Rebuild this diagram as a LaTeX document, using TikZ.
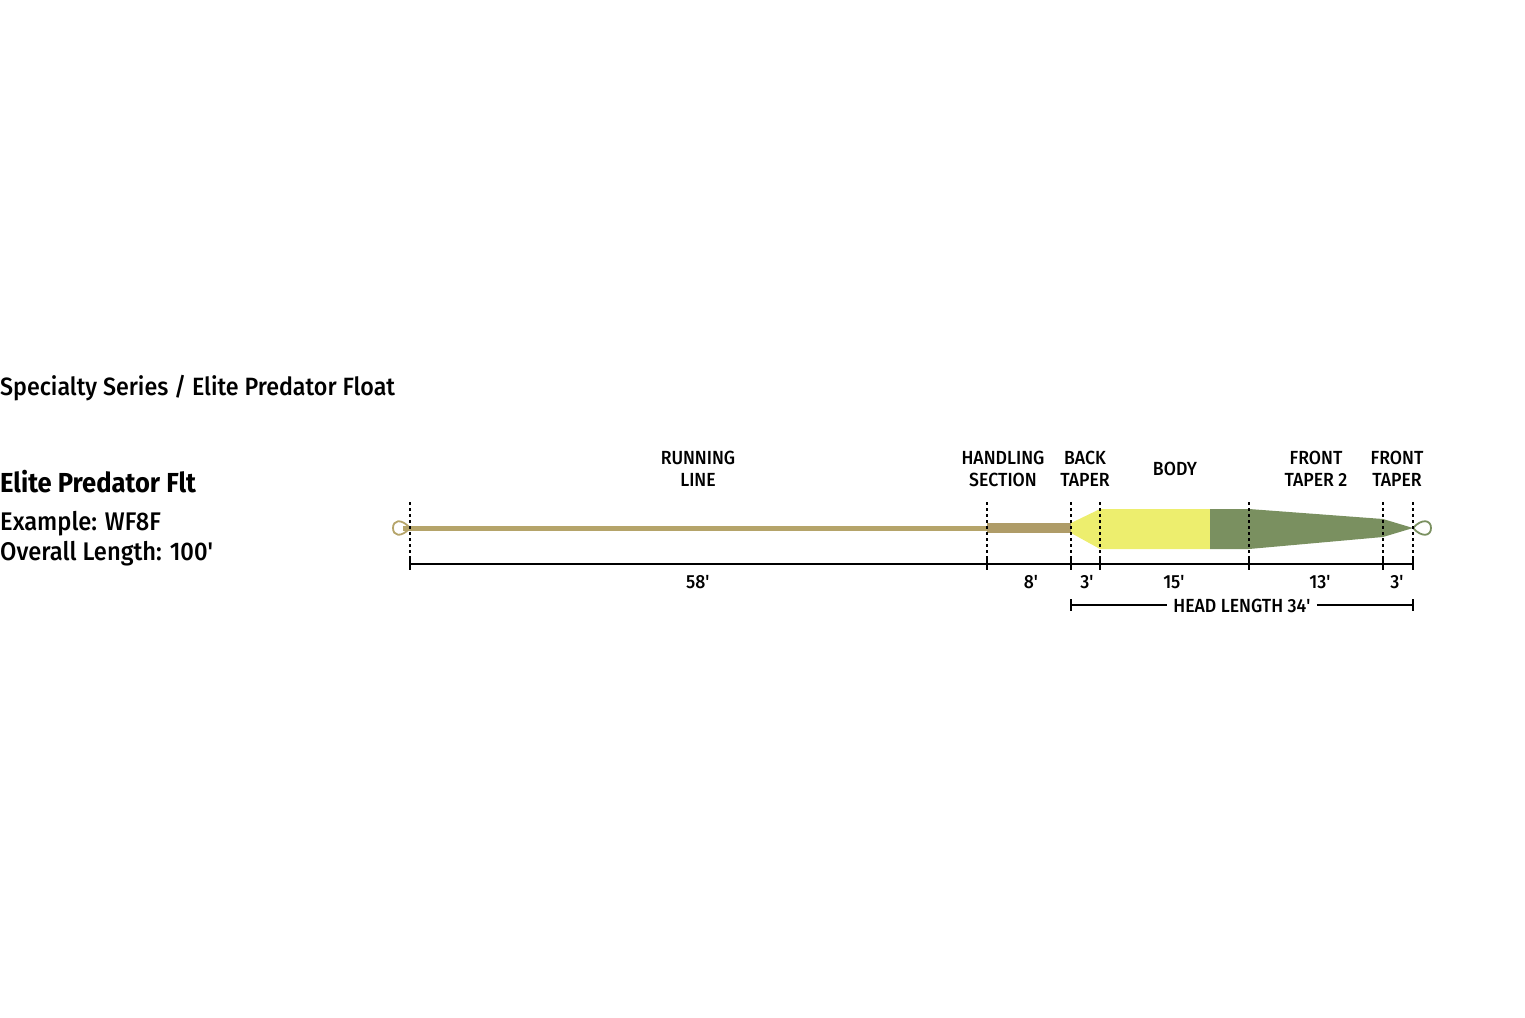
\documentclass[tikz,border=0pt]{standalone}
\usepackage{fontspec}
\setmainfont{Fira Sans}[UprightFont=* Medium, BoldFont=* Bold, FakeStretch=0.93]
\usetikzlibrary{positioning}

\definecolor{runcol}{HTML}{B5A46A}
\definecolor{handcol}{HTML}{AF9C68}
\definecolor{bodycol}{HTML}{EDEE6E}
\definecolor{tipcol}{HTML}{7A9060}

\newcommand{\ft}{\textquotesingle}

\tikzset{
  seclabel/.style={align=center, inner sep=0pt, font=\fontsize{19}{22}\selectfont},
  dimlabel/.style={inner sep=0pt, font=\fontsize{19}{22}\selectfont},
  infotext/.style={anchor=west, inner sep=0pt, font=\fontsize{25.5}{30}\selectfont},
  divider/.style={line width=1.8pt, dash pattern=on 3pt off 3pt},
  dimline/.style={line width=1.8pt},
}

\begin{document}
\begin{tikzpicture}[x=1pt, y=-1pt]
    \useasboundingbox (0,0) rectangle (1525,1017);

    % left texts
    \node[infotext, font=\fontsize{25}{30}\selectfont] (series) at (0,388) {Specialty Series / Elite Predator Float};
    \node[infotext, font=\fontsize{27.5}{30}\selectfont\bfseries] (name) at (0,482) {Elite Predator Flt};
    \node[infotext] (example) at (0,524) {Example: WF8F};
    \node[infotext] (overall) at (0,554) {Overall Length: 100\ft};

    % the line
    \fill[runcol] (403,525.5) rectangle (987,530.5);
    \fill[handcol] (987,523) rectangle (1071,533);
    \fill[bodycol] (1071,523) -- (1100,509) -- (1210,509) -- (1210,549) -- (1100,549) -- (1071,533) -- cycle;
    \fill[tipcol] (1210,509) -- (1249,509) -- (1383,519) -- (1413,528) -- (1383,537) -- (1249,549) -- (1210,549) -- cycle;
    \draw[runcol, line width=1.8pt] (410,528) .. controls (401,518) and (393,520) .. (393,528) .. controls (393,536) and (401,538) .. (410,528);
    \draw[tipcol, line width=1.8pt] (1413,528) .. controls (1422,518) and (1431,520) .. (1431,528) .. controls (1431,536) and (1422,538) .. (1413,528);

    % section boundaries
    \foreach \n/\x in {a/410, b/987, c/1071, d/1100, e/1249, f/1383, g/1413} {
        \draw[divider] (\x,502) -- (\x,568);
        \coordinate (\n) at (\x,564);
        \draw[dimline] (\x,558) -- (\x,570);
    }
    \draw[dimline] (a) -- (g);

    % section labels
    \node[seclabel] (run) at (698,469) {RUNNING\\LINE};
    \node[seclabel] (hand) at (1003,469) {HANDLING\\SECTION};
    \node[seclabel] (back) at (1085,469) {BACK\\TAPER};
    \node[seclabel] (body) at (1175,469) {BODY};
    \node[seclabel] (front2) at (1316,469) {FRONT\\TAPER 2};
    \node[seclabel] (front) at (1397,469) {FRONT\\TAPER};

    % lengths
    \node[dimlabel] (l58) at (698,582) {58\ft};
    \node[dimlabel] (l8) at (1031,582) {8\ft};
    \node[dimlabel] (l3a) at (1087,582) {3\ft};
    \node[dimlabel] (l15) at (1174,582) {15\ft};
    \node[dimlabel] (l13) at (1320,582) {13\ft};
    \node[dimlabel] (l3b) at (1397,582) {3\ft};

    % head length
    \node[dimlabel, inner xsep=6pt] (head) at (1242,606) {HEAD LENGTH 34\ft};
    \coordinate (hs) at (1071,605);
    \coordinate (he) at (1413,605);
    \draw[dimline] (hs) -- (head.west |- hs);
    \draw[dimline] (head.east |- he) -- (he);
    \draw[dimline] (1071,599) -- (1071,611);
    \draw[dimline] (1413,599) -- (1413,611);
\end{tikzpicture}
\end{document}
